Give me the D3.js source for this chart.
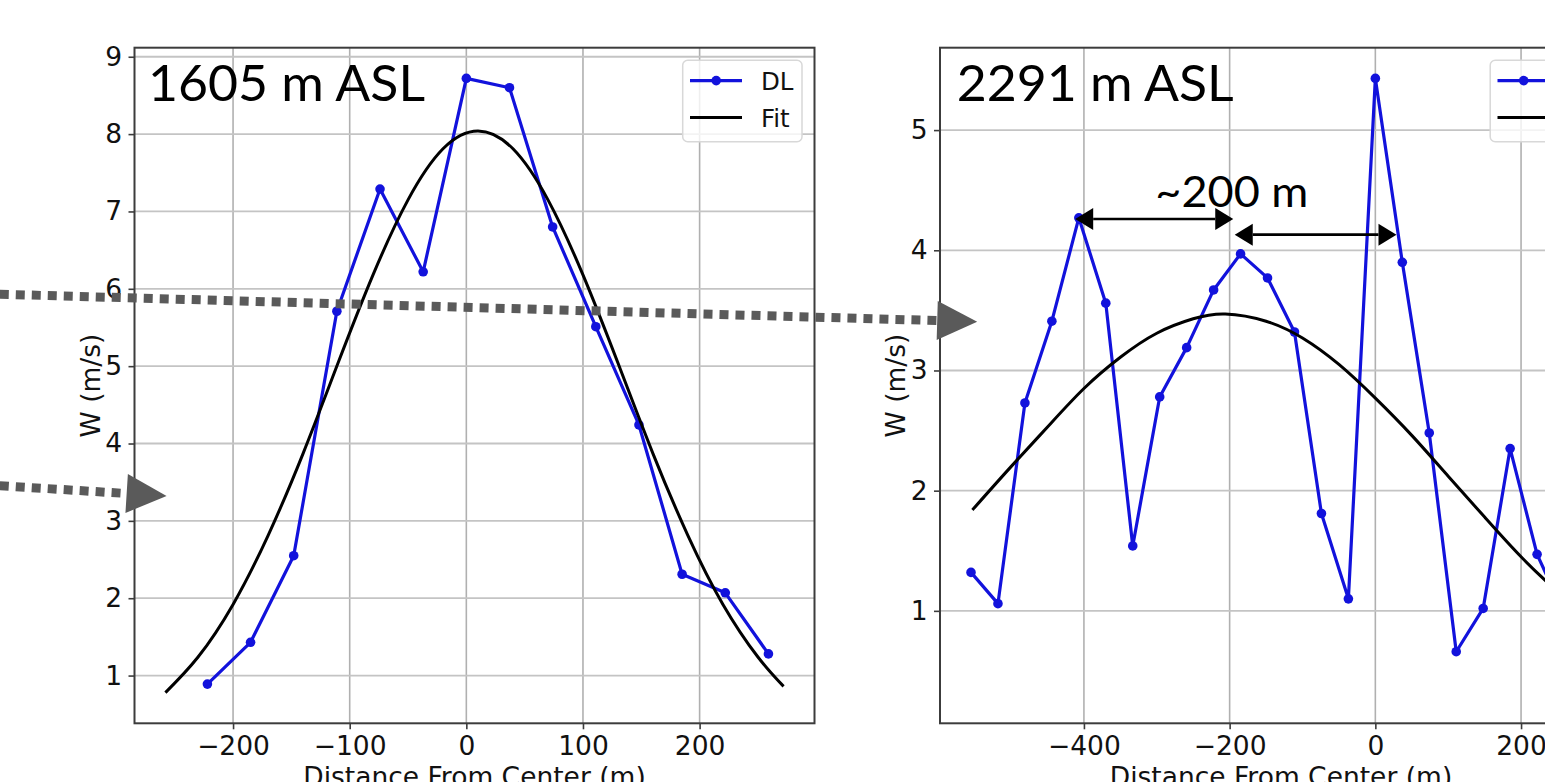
<!DOCTYPE html>
<html><head><meta charset="utf-8">
<script src="https://cdn.jsdelivr.net/npm/d3@7"></script>
<style>body{margin:0;background:#fff;} svg{display:block;background:#fff;}</style>
</head><body>
<svg id="chart" width="1545" height="782"></svg>
<script>
// ---------------- data ----------------
const leftDistance = [-222,-185,-148,-111,-74,-37,0,37,74,111,148,185,222,259];
const leftW        = [0.89,1.43,2.55,5.71,7.29,6.22,8.72,8.60,6.80,5.51,4.24,2.31,2.07,1.28];
const leftFitDistance = [-258,-230,-200,-170,-140,-110,-80,-50,-20,10,40,70,100,130,160,190,220,250,272];
const leftFitW        = [0.78,1.24,1.92,2.81,3.87,5.04,6.18,7.15,7.81,8.04,7.81,7.15,6.18,5.04,3.87,2.81,1.92,1.24,0.86];

const rightDistance = [-555,-518,-481,-444,-407,-370,-333,-296,-259,-222,-185,-148,-111,-74,-37,0,37,74,111,148,185,222,259,296];
const rightW        = [1.32,1.06,2.73,3.41,4.27,3.56,1.54,2.78,3.19,3.67,3.97,3.77,3.32,1.81,1.10,5.43,3.90,2.48,0.66,1.02,2.35,1.47,0.98,0.32];
const rightFitDistance = [-553,-500,-450,-400,-350,-300,-250,-206,-150,-100,-50,0,50,100,150,200,250,295];
const rightFitW        = [1.84,2.20,2.53,2.85,3.11,3.31,3.43,3.47,3.41,3.27,3.05,2.77,2.46,2.12,1.78,1.45,1.16,0.92];

const leftXTicks  = [-200,-100,0,100,200];
const leftYTicks  = [1,2,3,4,5,6,7,8,9];
const rightXTicks = [-400,-200,0,200];
const rightYTicks = [1,2,3,4,5];

const panelTitles = ["1605 m ASL", "2291 m ASL"];
const seriesNames = ["DL", "Fit"];
const xAxisLabel = "Distance From Center (m)";
const yAxisLabel = "W (m/s)";

// annotation on the right panel (data coordinates: [from, to, W])
const spacingLabel = "~200 m";
const spacingLabelAt = [-302, 4.36];
const spacingArrows = [[-412, -195, 4.26], [-193, 29, 4.13]];
// grey dotted overlay arrows (left-panel data coordinates: start -> tip)
const overlayArrows = [[[-400, 5.93], [438, 5.575]], [[-400, 3.455], [-257, 3.322]]];

// ---------------- drawing ----------------
const svg = d3.select("#chart");
const FONT = "'DejaVu Sans', sans-serif";
const TITLEFONT = "Lato, 'Open Sans', sans-serif";
const TOP = 47.7, BOTTOM = 723.3;
const BLUE = "#1212dc";
const TICKSIZE = 26.5;
const LEGSIZE = 24.5;

function padded(ext, f) { const s = ext[1] - ext[0]; return [ext[0] - s * f, ext[1] + s * f]; }

function drawPanel(p) {
  const x = d3.scaleLinear().domain(padded(d3.extent(p.dist.concat(p.fitDist)), 0.05)).range([p.left, p.right]);
  const y = d3.scaleLinear().domain(padded(d3.extent(p.w.concat(p.fitW)), 0.05)).range([BOTTOM, TOP]);
  const g = svg.append("g");

  // grid
  g.selectAll(".vg").data(p.xTicks).join("line")
    .attr("x1", d => x(d)).attr("x2", d => x(d)).attr("y1", TOP).attr("y2", BOTTOM)
    .attr("stroke", "#b0b0b0").attr("stroke-width", 1.6);
  g.selectAll(".hg").data(p.yTicks).join("line")
    .attr("x1", p.left).attr("x2", p.right).attr("y1", d => y(d)).attr("y2", d => y(d))
    .attr("stroke", "#c4c4c4").attr("stroke-width", 1.8);

  // DL line + markers
  const line = d3.line().x(d => x(d[0])).y(d => y(d[1]));
  g.append("path").datum(d3.zip(p.dist, p.w)).attr("d", line)
    .attr("fill", "none").attr("stroke", BLUE).attr("stroke-width", 3.2).attr("stroke-linejoin", "round");
  g.selectAll(".pt").data(d3.zip(p.dist, p.w)).join("circle")
    .attr("cx", d => x(d[0])).attr("cy", d => y(d[1])).attr("r", 4.8).attr("fill", BLUE);

  // Fit line
  const fitLine = d3.line().x(d => x(d[0])).y(d => y(d[1])).curve(d3.curveNatural);
  g.append("path").datum(d3.zip(p.fitDist, p.fitW)).attr("d", fitLine)
    .attr("fill", "none").attr("stroke", "#000").attr("stroke-width", 3);

  // spines
  g.append("rect").attr("x", p.left).attr("y", TOP).attr("width", p.right - p.left).attr("height", BOTTOM - TOP)
    .attr("fill", "none").attr("stroke", "#3c3c3c").attr("stroke-width", 2);

  // axes
  const fmt = d3.format("d");
  const xa = g.append("g").attr("transform", `translate(0,${BOTTOM})`)
    .call(d3.axisBottom(x).tickValues(p.xTicks).tickSize(6).tickPadding(6.9).tickFormat(fmt));
  const ya = g.append("g").attr("transform", `translate(${p.left},0)`)
    .call(d3.axisLeft(y).tickValues(p.yTicks).tickSize(6).tickPadding(6.5).tickFormat(fmt));
  [xa, ya].forEach(a => {
    a.select(".domain").remove();
    a.selectAll("line").attr("stroke", "#3c3c3c").attr("stroke-width", 1.6);
    a.selectAll("text").attr("font-family", FONT).attr("font-size", TICKSIZE).attr("fill", "#111");
  });

  // axis labels
  g.append("text").attr("x", (p.left + p.right) / 2).attr("y", 786).attr("text-anchor", "middle")
    .attr("font-family", FONT).attr("font-size", TICKSIZE).attr("fill", "#111").text(xAxisLabel);
  g.append("text").attr("transform", `translate(${p.left - 35},${(TOP + BOTTOM) / 2}) rotate(-90)`)
    .attr("text-anchor", "middle").attr("font-family", FONT).attr("font-size", TICKSIZE).attr("fill", "#111").text(yAxisLabel);

  // legend
  const lg = g.append("g").attr("transform", `translate(${p.right - 131.8},60.3)`);
  lg.append("rect").attr("width", 119.3).attr("height", 81.5).attr("rx", 5)
    .attr("fill", "#fff").attr("fill-opacity", 0.8).attr("stroke", "#d8d8d8").attr("stroke-width", 1.5);
  lg.append("line").attr("x1", 7.3).attr("x2", 59.3).attr("y1", 20.3).attr("y2", 20.3).attr("stroke", BLUE).attr("stroke-width", 3.2);
  lg.append("circle").attr("cx", 33.5).attr("cy", 20.3).attr("r", 4.8).attr("fill", BLUE);
  lg.append("line").attr("x1", 7.3).attr("x2", 59.3).attr("y1", 57.3).attr("y2", 57.3).attr("stroke", "#000").attr("stroke-width", 3);
  lg.selectAll(".lt").data(seriesNames).join("text")
    .attr("x", 78.3).attr("y", (d, i) => i === 0 ? 30 : 66.7)
    .attr("font-family", FONT).attr("font-size", LEGSIZE).attr("fill", "#111").text(d => d);

  // panel title
  g.append("text").attr("x", p.left + p.titleDx).attr("y", 100.7)
    .attr("font-family", TITLEFONT).attr("font-size", 50).attr("fill", "#000")
    .attr("textLength", 277).attr("lengthAdjust", "spacingAndGlyphs").text(p.title);

  return { x, y };
}

const L = drawPanel({ dist: leftDistance, w: leftW, fitDist: leftFitDistance, fitW: leftFitW,
  xTicks: leftXTicks, yTicks: leftYTicks, left: 134.5, right: 814.5, title: panelTitles[0], titleDx: 13.5 });
const R = drawPanel({ dist: rightDistance, w: rightW, fitDist: rightFitDistance, fitW: rightFitW,
  xTicks: rightXTicks, yTicks: rightYTicks, left: 940, right: 1622, title: panelTitles[1], titleDx: 16.7 });

function head(g, tip, from, len, half, color) {
  const dx = tip[0] - from[0], dy = tip[1] - from[1], n = Math.hypot(dx, dy);
  const ux = dx / n, uy = dy / n, bx = tip[0] - ux * len, by = tip[1] - uy * len;
  g.append("polygon").attr("points", [tip, [bx - uy * half, by + ux * half], [bx + uy * half, by - ux * half]].map(q => q.join(",")).join(" "))
    .attr("fill", color);
  return [bx, by];
}

// spacing annotation (right panel)
const ann = svg.append("g");
spacingArrows.forEach(a => {
  const p1 = [R.x(a[0]), R.y(a[2])], p2 = [R.x(a[1]), R.y(a[2])];
  const b1 = head(ann, p1, p2, 18, 11, "#000");
  const b2 = head(ann, p2, p1, 18, 11, "#000");
  ann.append("line").attr("x1", b1[0]).attr("y1", b1[1]).attr("x2", b2[0]).attr("y2", b2[1])
    .attr("stroke", "#000").attr("stroke-width", 2.6);
});
ann.append("text").attr("x", R.x(spacingLabelAt[0])).attr("y", R.y(spacingLabelAt[1]))
  .attr("font-family", TITLEFONT).attr("font-size", 42).attr("fill", "#000")
  .attr("textLength", 153).attr("lengthAdjust", "spacingAndGlyphs").text(spacingLabel);

// grey dotted overlay arrows
const ov = svg.append("g");
overlayArrows.forEach(a => {
  const s = [L.x(a[0][0]), L.y(a[0][1])], t = [L.x(a[1][0]), L.y(a[1][1])];
  const b = head(ov, t, s, 40, 19.5, "#5a5a5a");
  ov.append("line").attr("x1", s[0]).attr("y1", s[1]).attr("x2", b[0]).attr("y2", b[1])
    .attr("stroke", "#5a5a5a").attr("stroke-width", 9).attr("stroke-dasharray", "9,7");
});
</script>
</body></html>
